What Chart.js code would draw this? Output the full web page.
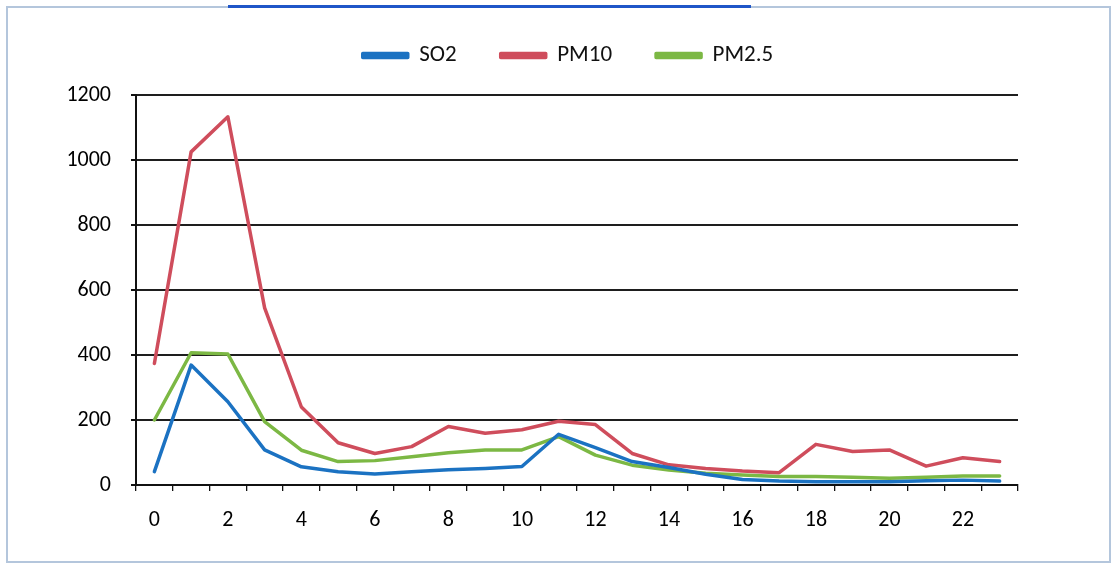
<!DOCTYPE html>
<html>
<head>
<meta charset="utf-8">
<script src="https://cdn.jsdelivr.net/npm/chart.js@4.4.1/dist/chart.umd.min.js"></script>
<style>
  html, body { margin: 0; padding: 0; background: #ffffff; }
  #wrap { position: relative; width: 1116px; height: 568px; overflow: hidden; }
  #frame { position: absolute; left: 6px; top: 6px; width: 1101px; height: 553px; border: 2px solid #b4c6dc; box-sizing: content-box; pointer-events: none; }
  #topbar { position: absolute; left: 228px; top: 5px; width: 523px; height: 3px; background: #1f56c8; pointer-events: none; }
  canvas { position: absolute; left: 0; top: 0; }
</style>
</head>
<body>
<div id="wrap">
  <canvas id="c" width="1116" height="568"></canvas>
  <div id="frame"></div>
  <div id="topbar"></div>
</div>
<script>
// Hours of the day (categories)
const hours = ['0','1','2','3','4','5','6','7','8','9','10','11','12','13','14','15','16','17','18','19','20','21','22','23'];
// Series values
const so2  = [41, 369, 256, 108, 56, 41, 34, 41, 47, 51, 57, 156, 115, 72, 54, 33, 17, 12, 10, 10, 10, 13, 15, 12];
const pm10 = [374, 1025, 1133, 545, 240, 130, 97, 118, 180, 159, 170, 196, 186, 97, 62, 51, 43, 38, 125, 103, 108, 58, 84, 72];
const pm25 = [200, 407, 403, 195, 107, 72, 75, 87, 99, 108, 108, 149, 92, 61, 46, 36, 31, 26, 26, 24, 21, 24, 28, 28];
// Axis settings
const yTicks = [0, 200, 400, 600, 800, 1000, 1200];
const seriesNames = ['SO2', 'PM10', 'PM2.5'];

const FONT = 'Carlito, Lato, "Open Sans", "Liberation Sans", sans-serif';

const legendFix = {
  id: 'legendFix',
  beforeUpdate(chart) {
    const lg = chart.legend;
    if (lg && !lg._patched) {
      const orig = lg.fit;
      lg.fit = function () { orig.call(this); this.height = 95; };
      lg._patched = true;
    }
  },
  afterLayout(chart) {
    const lg = chart.legend;
    if (lg) { lg.left = lg.left + 118; }
  }
};

new Chart(document.getElementById('c'), {
  type: 'line',
  data: {
    labels: hours,
    datasets: [
      { label: seriesNames[0], data: so2,  borderColor: '#1b72c2', backgroundColor: '#1b72c2' },
      { label: seriesNames[1], data: pm10, borderColor: '#cf4d5c', backgroundColor: '#cf4d5c' },
      { label: seriesNames[2], data: pm25, borderColor: '#7cb844', backgroundColor: '#7cb844' }
    ]
  },
  options: {
    responsive: false,
    animation: false,
    devicePixelRatio: 1,
    layout: { padding: { left: 0, right: 98, top: 0, bottom: 0 } },
    elements: {
      line: { borderWidth: 3.5, tension: 0, borderCapStyle: 'round', borderJoinStyle: 'round' },
      point: { radius: 0, hoverRadius: 0 }
    },
    plugins: {
      tooltip: { enabled: false },
      legend: {
        position: 'top',
        align: 'center',
        labels: {
          boxWidth: 45,
          boxHeight: 4,
          padding: 44,
          color: '#111',
          font: { family: FONT, size: 23 }
        }
      }
    },
    scales: {
      x: {
        type: 'category',
        offset: true,
        afterFit(s) { s.height = 83; },
        grid: { offset: true, drawOnChartArea: false, drawTicks: true, tickLength: 6, tickColor: '#111', lineWidth: 1.3 },
        border: { display: true, color: '#111', width: 2 },
        ticks: {
          autoSkip: false,
          maxRotation: 0,
          padding: 16,
          color: '#000',
          font: { family: FONT, size: 22 },
          callback(v, i) { return i % 2 === 0 ? hours[i] : ''; }
        }
      },
      y: {
        min: 0,
        max: 1200,
        afterFit(s) { s.width = 136; },
        afterBuildTicks(s) { s.ticks = yTicks.map(v => ({ value: v })); },
        grid: { color: '#1e1e1e', lineWidth: 2, drawTicks: true, tickLength: 5, tickColor: '#111' },
        border: { display: true, color: '#111', width: 2 },
        ticks: {
          padding: 20,
          color: '#000',
          font: { family: FONT, size: 22 },
          callback(v) { return String(v); }
        }
      }
    }
  },
  plugins: [legendFix]
});
</script>
</body>
</html>
